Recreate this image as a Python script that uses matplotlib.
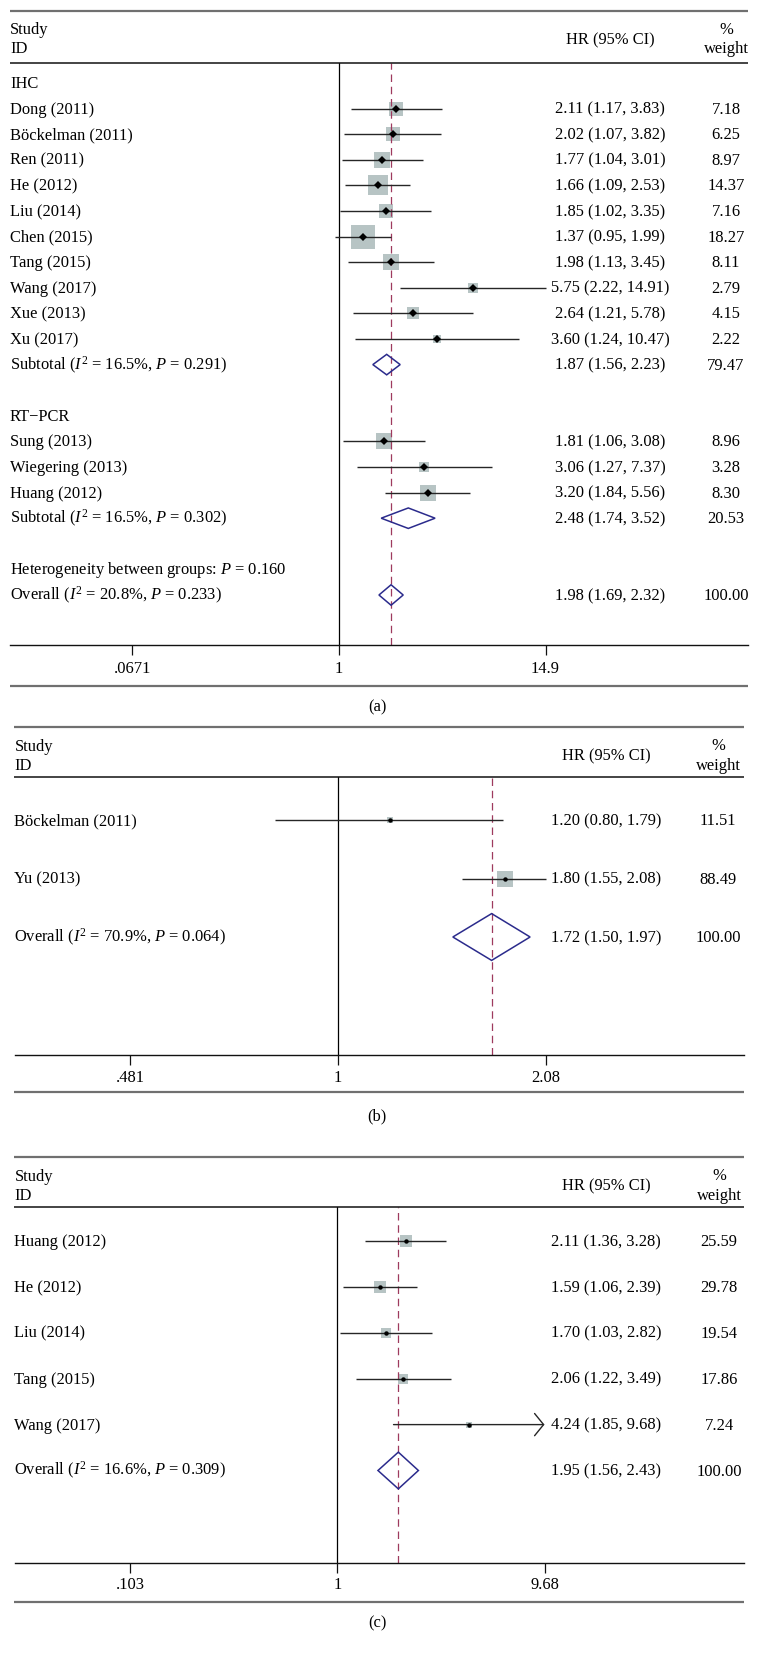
import numpy as np
import matplotlib
matplotlib.use("Agg")
import matplotlib.pyplot as plt
from matplotlib.lines import Line2D
from matplotlib.ticker import NullLocator

plt.rcParams['font.family'] = ['Liberation Serif', 'DejaVu Serif']
plt.rcParams['mathtext.fontset'] = 'custom'
plt.rcParams['mathtext.rm'] = 'Liberation Serif'
plt.rcParams['mathtext.it'] = 'Liberation Serif:italic'

# ---- данные: панель (a) ----
studies_a = ['Dong (2011)', 'Böckelman (2011)', 'Ren (2011)', 'He (2012)', 'Liu (2014)',
             'Chen (2015)', 'Tang (2015)', 'Wang (2017)', 'Xue (2013)', 'Xu (2017)',
             'Sung (2013)', 'Wiegering (2013)', 'Huang (2012)']
hr_a = [2.11, 2.02, 1.77, 1.66, 1.85, 1.37, 1.98, 5.75, 2.64, 3.60, 1.81, 3.06, 3.20]
lo_a = [1.17, 1.07, 1.04, 1.09, 1.02, 0.95, 1.13, 2.22, 1.21, 1.24, 1.06, 1.27, 1.84]
hi_a = [3.83, 3.82, 3.01, 2.53, 3.35, 1.99, 3.45, 14.91, 5.78, 10.47, 3.08, 7.37, 5.56]
wt_a = [7.18, 6.25, 8.97, 14.37, 7.16, 18.27, 8.11, 2.79, 4.15, 2.22, 8.96, 3.28, 8.30]
group_of_a = [0] * 10 + [1] * 3
groups_a = ['IHC', 'RT−PCR']
sub_hr_a = [1.87, 2.48]
sub_lo_a = [1.56, 1.74]
sub_hi_a = [2.23, 3.52]
sub_wt_a = [79.47, 20.53]
sub_i2_a = ['16.5', '16.5']
sub_p_a = ['0.291', '0.302']
het_p_a = '0.160'
overall_a = [1.98, 1.69, 2.32, 100.00]
overall_stats_a = ['20.8', '0.233']
ticks_a = [0.0671, 1, 14.9]
ticklab_a = ['.0671', '1', '14.9']

# ---- панель (b) ----
studies_b = ['Böckelman (2011)', 'Yu (2013)']
hr_b = [1.20, 1.80]
lo_b = [0.80, 1.55]
hi_b = [1.79, 2.08]
wt_b = [11.51, 88.49]
overall_b = [1.72, 1.50, 1.97, 100.00]
overall_stats_b = ['70.9', '0.064']
ticks_b = [0.481, 1, 2.08]
ticklab_b = ['.481', '1', '2.08']

# ---- панель (c) ----
studies_c = ['Huang (2012)', 'He (2012)', 'Liu (2014)', 'Tang (2015)', 'Wang (2017)']
hr_c = [2.11, 1.59, 1.70, 2.06, 4.24]
lo_c = [1.36, 1.06, 1.03, 1.22, 1.85]
hi_c = [3.28, 2.39, 2.82, 3.49, 9.68]
wt_c = [25.59, 29.78, 19.54, 17.86, 7.24]
arrow_c = [False, False, False, False, True]
overall_c = [1.95, 1.56, 2.43, 100.00]
overall_stats_c = ['16.6', '0.309']
ticks_c = [0.103, 1, 9.68]
ticklab_c = ['.103', '1', '9.68']

W, H = 759, 1657
FS = 11.9
BOX = '#b7c4c4'
NAVY = '#2b2b8c'
MAROON = '#9e3a5e'
CI = '#262626'
RULE = '#707070'

fig = plt.figure(figsize=(W / 100, H / 100), dpi=100)


def fx(px):
    return px / W


def fy(py):
    return 1 - py / H


def hrule(y, x0, x1, color, lw):
    fig.add_artist(Line2D([fx(x0), fx(x1)], [fy(y), fy(y)], color=color, lw=lw,
                          transform=fig.transFigure, solid_capstyle='butt'))


def pooled_label(stats):
    return r'($I^2$ = ' + stats[0] + r'%, $P$ = ' + stats[1] + ')'


def draw_panel(g, rows, ov_hr, ticks, tick_labels, box_k, dot, letter):
    ax = fig.add_axes([fx(g['left']), fy(g['axis']), fx(g['right']) - fx(g['left']),
                       (g['axis'] - g['sep']) / H])
    ppl = (g['tick_px'] - g['null']) / np.log(ticks[-1])
    ax.set_xscale('log')
    ax.set_xlim(np.exp((g['left'] - g['null']) / ppl), np.exp((g['right'] - g['null']) / ppl))
    ax.set_ylim((g['axis'] - g['first']) / g['step'], (g['sep'] - g['first']) / g['step'])
    ax.patch.set_alpha(0)
    for s in ['top', 'left', 'right']:
        ax.spines[s].set_visible(False)
    ax.spines['bottom'].set_color('#111111')
    ax.spines['bottom'].set_linewidth(1.0)
    ax.set_yticks([])
    ax.set_xticks(ticks)
    ax.set_xticklabels([])
    ax.xaxis.set_minor_locator(NullLocator())
    ax.tick_params(axis='x', length=7.2, width=0.9, color='#111111', direction='out')

    ax.axvline(1, color='black', lw=0.9, zorder=1)
    ax.axvline(ov_hr, color=MAROON, lw=0.9, linestyle=(0, (6, 3.8)), zorder=2.5)

    for i, (kind, label, hr, lo, hi, wt, arrow) in enumerate(rows):
        ypx = g['first'] + i * g['step']
        if label:
            fig.text(fx(g['text_x']), fy(ypx + 5), label, ha='left', va='baseline', fontsize=FS)
        if kind == 'study':
            ax.scatter([hr], [i], s=(0.72 * box_k) ** 2 * wt, marker='s', color=BOX,
                       linewidths=0, zorder=2)
            if arrow:
                ax.annotate('', xy=(hi, i), xytext=(lo, i),
                            arrowprops=dict(arrowstyle='->,head_length=0.65,head_width=0.8',
                                            color=CI, lw=1.0, shrinkA=0, shrinkB=0),
                            zorder=3)
            else:
                ax.plot([lo, hi], [i, i], color=CI, lw=1.0, zorder=3, solid_capstyle='butt')
            ax.plot([hr], [i], marker=dot[0], ms=dot[1], color='black', mew=0, zorder=4)
        elif kind == 'pooled':
            ax.fill([lo, hr, hi, hr], [i, i - 0.4, i, i + 0.4], facecolor='none',
                    edgecolor=NAVY, lw=1.1, zorder=3)
        if hr is not None:
            fig.text(fx(g['hr_x']), fy(ypx + 5), f'{hr:.2f} ({lo:.2f}, {hi:.2f})',
                     ha='center', va='baseline', fontsize=FS)
            fig.text(fx(g['wt_x']), fy(ypx + 5), f'{wt:.2f}',
                     ha='center', va='baseline', fontsize=FS)

    for v, lab in zip(ticks, tick_labels):
        ax.text(v, fy(g['tick_base']), lab, ha='center', va='baseline', fontsize=FS,
                transform=matplotlib.transforms.blended_transform_factory(ax.transData, fig.transFigure))

    # шапка и линейки
    top = g['top']
    hrule(top, g['left'], g['right'], RULE, 1.6)
    hrule(g['sep'], g['left'], g['right'], '#111111', 1.1)
    hrule(g['bottom'], g['left'], g['right'], RULE, 1.6)
    fig.text(fx(g['text_x']), fy(top + g['h1']), 'Study', ha='left', va='baseline', fontsize=FS)
    fig.text(fx(g['text_x']), fy(top + g['h2']), 'ID', ha='left', va='baseline', fontsize=FS)
    fig.text(fx(g['hr_x']), fy(top + g['hm']), 'HR (95% CI)', ha='center', va='baseline', fontsize=FS)
    fig.text(fx(g['wt_x']), fy(top + g['h1'] - 0.5), '%', ha='center', va='baseline', fontsize=FS)
    fig.text(fx(g['wt_x']), fy(top + g['h2']), 'weight', ha='center', va='baseline', fontsize=FS)
    fig.text(fx(377), fy(g['letter_base']), letter, ha='center', va='baseline', fontsize=FS)


# строки панели (a)
rows_a = []
for gi, gname in enumerate(groups_a):
    rows_a.append(('head', gname, None, None, None, None, False))
    for k in range(len(studies_a)):
        if group_of_a[k] == gi:
            rows_a.append(('study', studies_a[k], hr_a[k], lo_a[k], hi_a[k], wt_a[k], False))
    rows_a.append(('pooled', 'Subtotal ' + pooled_label([sub_i2_a[gi], sub_p_a[gi]]),
                   sub_hr_a[gi], sub_lo_a[gi], sub_hi_a[gi], sub_wt_a[gi], False))
    rows_a.append(('blank', '', None, None, None, None, False))
rows_a.append(('head', r'Heterogeneity between groups: $P$ = ' + het_p_a, None, None, None, None, False))
rows_a.append(('pooled', 'Overall ' + pooled_label(overall_stats_a), *overall_a, False))

rows_b = [('study', s, h, l, u, w, False) for s, h, l, u, w in zip(studies_b, hr_b, lo_b, hi_b, wt_b)]
rows_b.append(('pooled', 'Overall ' + pooled_label(overall_stats_b), *overall_b, False))

rows_c = [('study', s, h, l, u, w, a) for s, h, l, u, w, a in zip(studies_c, hr_c, lo_c, hi_c, wt_c, arrow_c)]
rows_c.append(('pooled', 'Overall ' + pooled_label(overall_stats_c), *overall_c, False))

geom_a = dict(left=10, right=748, null=338.8, tick_px=545.5, top=11, sep=63, first=83, step=25.6,
              axis=645, tick_base=673.3, bottom=685.7, letter_base=711,
              text_x=10, hr_x=610, wt_x=726, h1=23.5, h2=42.3, hm=33.3)
geom_b = dict(left=14.5, right=743.5, null=337.9, tick_px=545.5, top=727.3, sep=776.7, first=820,
              step=58.5, axis=1055, tick_base=1081.5, bottom=1092.3, letter_base=1120.4,
              text_x=14.5, hr_x=606, wt_x=718, h1=23.4, h2=42.7, hm=33.4)
geom_c = dict(left=14.5, right=744, null=337.4, tick_px=544.5, top=1157.3, sep=1207.3, first=1241,
              step=45.9, axis=1562.7, tick_base=1589.3, bottom=1601.7, letter_base=1627.8,
              text_x=14.5, hr_x=606, wt_x=719, h1=23.4, h2=42.7, hm=33.4)

draw_panel(geom_a, rows_a, overall_a[0], ticks_a, ticklab_a, 5.5, ('D', 4.2), '(a)')
draw_panel(geom_b, rows_b, overall_b[0], ticks_b, ticklab_b, 1.7, ('o', 3.2), '(b)')
draw_panel(geom_c, rows_c, overall_c[0], ticks_c, ticklab_c, 2.35, ('o', 3.2), '(c)')

fig.savefig('out.png', dpi=100, facecolor='white')
